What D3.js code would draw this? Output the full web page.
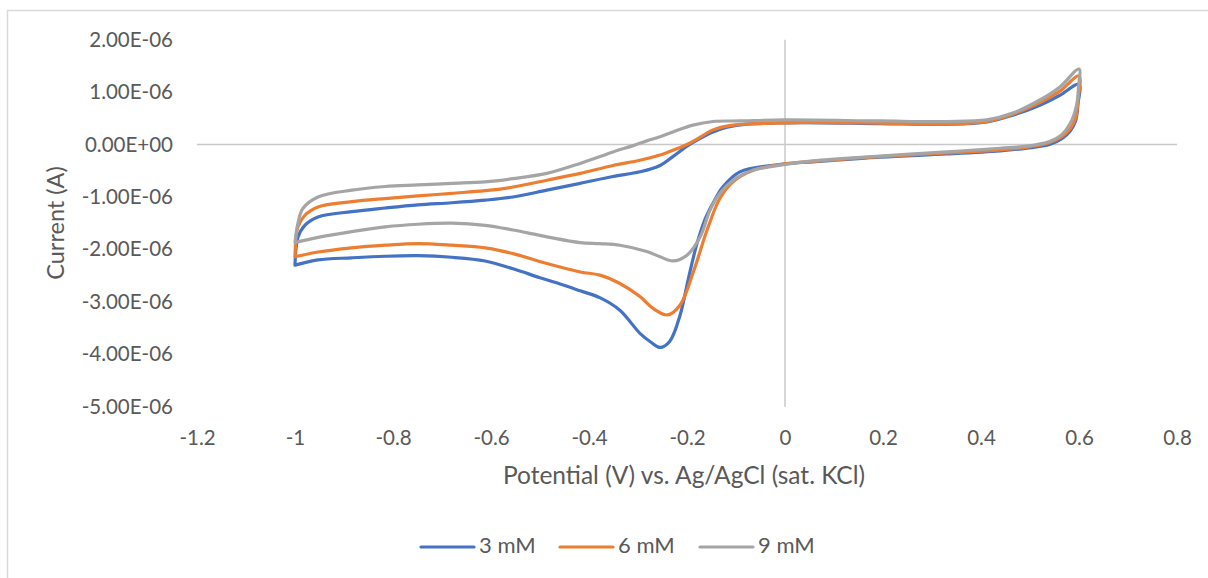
<!DOCTYPE html>
<html>
<head>
<meta charset="utf-8">
<script src="https://cdn.jsdelivr.net/npm/d3@7"></script>
<style>
  html, body { margin: 0; padding: 0; background: #ffffff; }
  svg { display: block; }
  text { font-family: Lato, "Open Sans", sans-serif; fill: #595959; }
</style>
</head>
<body>
<svg id="chart" width="1208" height="578"></svg>
<script>
// Cyclic voltammograms at three concentrations.
// Potential in V vs. Ag/AgCl, current in A. Each loop: anodic sweep -1 -> 0.6 V, then back.
const series = ["3 mM", "6 mM", "9 mM"];
const colors = ["#4472C4", "#ED7D31", "#A5A5A5"];

const potential3mM = [
  -1.0, -0.994, -0.98, -0.953, -0.884, -0.816, -0.749, -0.68, -0.612, -0.555, -0.486, -0.418, -0.351, -0.296, -0.255, -0.229, -0.2, -0.173, -0.147, -0.118, -0.078, -0.024, 0.03, 0.194, 0.33, 0.412, 0.465, 0.52, 0.561, 0.6,
  0.598, 0.593, 0.582, 0.565, 0.54, 0.494, 0.439, 0.33, 0.194, 0.057, 0.0, -0.092, -0.127, -0.147, -0.163, -0.18, -0.197, -0.214, -0.235, -0.255, -0.272, -0.296, -0.337, -0.378, -0.418, -0.459, -0.5, -0.555, -0.612, -0.68, -0.749, -0.816, -0.884, -0.953, -1.0
];
const current3mM = [
  -2.30e-6, -1.77e-6, -1.54e-6, -1.38e-6, -1.28e-6, -1.21e-6, -1.15e-6, -1.11e-6, -1.06e-6, -1.00e-6, -0.87e-6, -0.74e-6, -0.61e-6, -0.52e-6, -0.40e-6, -0.23e-6, -0.03e-6, 0.12e-6, 0.24e-6, 0.33e-6, 0.39e-6, 0.41e-6, 0.42e-6, 0.40e-6, 0.385e-6, 0.43e-6, 0.56e-6, 0.75e-6, 0.94e-6, 1.15e-6,
  0.78e-6, 0.45e-6, 0.26e-6, 0.11e-6, 0.0, -0.07e-6, -0.12e-6, -0.18e-6, -0.24e-6, -0.33e-6, -0.37e-6, -0.52e-6, -0.81e-6, -1.12e-6, -1.42e-6, -1.90e-6, -2.55e-6, -3.25e-6, -3.75e-6, -3.87e-6, -3.78e-6, -3.60e-6, -3.16e-6, -2.92e-6, -2.79e-6, -2.66e-6, -2.54e-6, -2.37e-6, -2.22e-6, -2.15e-6, -2.12e-6, -2.13e-6, -2.16e-6, -2.20e-6, -2.30e-6
];

const potential6mM = [
  -1.0, -0.994, -0.98, -0.953, -0.884, -0.816, -0.749, -0.68, -0.612, -0.555, -0.486, -0.418, -0.351, -0.296, -0.255, -0.24, -0.2, -0.173, -0.147, -0.106, -0.024, 0.03, 0.194, 0.33, 0.412, 0.465, 0.52, 0.561, 0.6,
  0.598, 0.593, 0.582, 0.565, 0.54, 0.494, 0.439, 0.33, 0.194, 0.057, 0.0, -0.065, -0.106, -0.133, -0.159, -0.186, -0.214, -0.24, -0.27, -0.296, -0.337, -0.378, -0.418, -0.486, -0.555, -0.612, -0.68, -0.749, -0.816, -0.884, -0.953, -1.0
];
const current6mM = [
  -2.14e-6, -1.57e-6, -1.35e-6, -1.19e-6, -1.09e-6, -1.03e-6, -0.98e-6, -0.93e-6, -0.88e-6, -0.81e-6, -0.68e-6, -0.55e-6, -0.40e-6, -0.30e-6, -0.20e-6, -0.15e-6, 0.0, 0.14e-6, 0.28e-6, 0.37e-6, 0.41e-6, 0.42e-6, 0.41e-6, 0.39e-6, 0.44e-6, 0.58e-6, 0.80e-6, 1.02e-6, 1.31e-6,
  0.85e-6, 0.50e-6, 0.30e-6, 0.15e-6, 0.04e-6, -0.05e-6, -0.10e-6, -0.16e-6, -0.23e-6, -0.32e-6, -0.37e-6, -0.49e-6, -0.71e-6, -1.03e-6, -1.63e-6, -2.40e-6, -3.06e-6, -3.25e-6, -3.12e-6, -2.90e-6, -2.65e-6, -2.49e-6, -2.43e-6, -2.27e-6, -2.08e-6, -1.97e-6, -1.92e-6, -1.89e-6, -1.92e-6, -1.97e-6, -2.05e-6, -2.14e-6
];

const potential9mM = [
  -1.0, -0.994, -0.984, -0.953, -0.884, -0.816, -0.749, -0.68, -0.612, -0.555, -0.486, -0.418, -0.351, -0.31, -0.282, -0.255, -0.229, -0.188, -0.147, -0.092, 0.0, 0.194, 0.33, 0.412, 0.465, 0.52, 0.561, 0.6,
  0.599, 0.595, 0.582, 0.565, 0.54, 0.494, 0.439, 0.33, 0.194, 0.057, 0.0, -0.065, -0.106, -0.133, -0.153, -0.173, -0.2, -0.229, -0.255, -0.282, -0.337, -0.378, -0.418, -0.486, -0.555, -0.612, -0.68, -0.749, -0.816, -0.884, -0.953, -1.0
];
const current9mM = [
  -1.87e-6, -1.50e-6, -1.22e-6, -1.00e-6, -0.87e-6, -0.80e-6, -0.77e-6, -0.74e-6, -0.71e-6, -0.65e-6, -0.55e-6, -0.36e-6, -0.14e-6, -0.02e-6, 0.07e-6, 0.15e-6, 0.24e-6, 0.37e-6, 0.44e-6, 0.45e-6, 0.47e-6, 0.45e-6, 0.44e-6, 0.47e-6, 0.60e-6, 0.85e-6, 1.10e-6, 1.44e-6,
  1.10e-6, 0.75e-6, 0.40e-6, 0.19e-6, 0.06e-6, -0.03e-6, -0.07e-6, -0.14e-6, -0.22e-6, -0.31e-6, -0.38e-6, -0.49e-6, -0.68e-6, -0.93e-6, -1.25e-6, -1.76e-6, -2.11e-6, -2.22e-6, -2.14e-6, -2.04e-6, -1.92e-6, -1.89e-6, -1.87e-6, -1.76e-6, -1.63e-6, -1.54e-6, -1.50e-6, -1.52e-6, -1.57e-6, -1.66e-6, -1.77e-6, -1.87e-6
];

const xTicks = [-1.2, -1, -0.8, -0.6, -0.4, -0.2, 0, 0.2, 0.4, 0.6, 0.8];
const yTicks = [2e-6, 1e-6, 0, -1e-6, -2e-6, -3e-6, -4e-6, -5e-6];

const xTitle = "Potential (V) vs. Ag/AgCl (sat. KCl)";
const yTitle = "Current (A)";

const loops = [
  [potential3mM, current3mM],
  [potential6mM, current6mM],
  [potential9mM, current9mM]
];

const svg = d3.select("#chart");

// outer chart frame
svg.append("rect")
  .attr("x", 7.5).attr("y", 10.5)
  .attr("width", 1240).attr("height", 600)
  .attr("fill", "#ffffff")
  .attr("stroke", "#d9d9d9").attr("stroke-width", 1.5);

const plot = { left: 197, right: 1177, top: 39.7, bottom: 406.7 };

const x = d3.scaleLinear().domain([-1.2, 0.8]).range([plot.left, plot.right]);
const y = d3.scaleLinear().domain([-5e-6, 2e-6]).range([plot.bottom, plot.top]);

function sci(v) {
  const [m, e] = v.toExponential(2).split("e");
  const n = +e;
  return m + "E" + (n < 0 ? "-" : "+") + String(Math.abs(n)).padStart(2, "0");
}

// axis lines crossing at the origin
svg.append("line")
  .attr("x1", plot.left).attr("x2", plot.right)
  .attr("y1", y(0)).attr("y2", y(0))
  .attr("stroke", "#c8c8c8").attr("stroke-width", 1.5);
svg.append("line")
  .attr("x1", x(0)).attr("x2", x(0))
  .attr("y1", plot.top).attr("y2", plot.bottom)
  .attr("stroke", "#c8c8c8").attr("stroke-width", 1.5);

// y tick labels
const yAxis = svg.append("g")
  .attr("transform", `translate(${plot.left},0)`)
  .call(d3.axisLeft(y).tickValues(yTicks).tickFormat(sci).tickSize(0).tickPadding(24));
yAxis.select(".domain").remove();
yAxis.selectAll("text").style("font-size", "20.5px").attr("fill", "#595959");

// x tick labels along the bottom edge
const xAxis = svg.append("g")
  .attr("transform", `translate(0,${plot.bottom})`)
  .call(d3.axisBottom(x).tickValues(xTicks).tickFormat(d => String(+d.toFixed(1))).tickSize(0).tickPadding(24));
xAxis.select(".domain").remove();
xAxis.selectAll("text").style("font-size", "20.5px").attr("fill", "#595959");

// axis titles
svg.append("text")
  .attr("x", 684).attr("y", 478)
  .attr("text-anchor", "middle").attr("dominant-baseline", "middle")
  .style("font-size", "24.5px")
  .text(xTitle);
svg.append("text")
  .attr("transform", "translate(58,223) rotate(-90)")
  .attr("text-anchor", "middle").attr("dominant-baseline", "middle")
  .style("font-size", "23.5px")
  .text(yTitle);

// voltammogram loops
const line = d3.line()
  .x(d => x(d[0]))
  .y(d => y(d[1]))
  .curve(d3.curveCatmullRom.alpha(0.5));

loops.forEach(([vs, is], k) => {
  const pts = vs.map((v, i) => [v, is[i]]);
  svg.append("path")
    .datum(pts)
    .attr("d", line)
    .attr("fill", "none")
    .attr("stroke", colors[k])
    .attr("stroke-width", 3.2)
    .attr("stroke-linejoin", "round")
    .attr("stroke-linecap", "round");
});

// legend
const legendX = [421, 560, 700];
const legend = svg.append("g");
series.forEach((name, k) => {
  const g = legend.append("g").attr("transform", `translate(${legendX[k]},547)`);
  g.append("line")
    .attr("x1", 0).attr("x2", 53).attr("y1", 0).attr("y2", 0)
    .attr("stroke", colors[k]).attr("stroke-width", 3.2).attr("stroke-linecap", "round");
  g.append("text")
    .attr("x", 58).attr("y", 0)
    .attr("dominant-baseline", "middle")
    .style("font-size", "22px")
    .text(name);
});
</script>
</body>
</html>
